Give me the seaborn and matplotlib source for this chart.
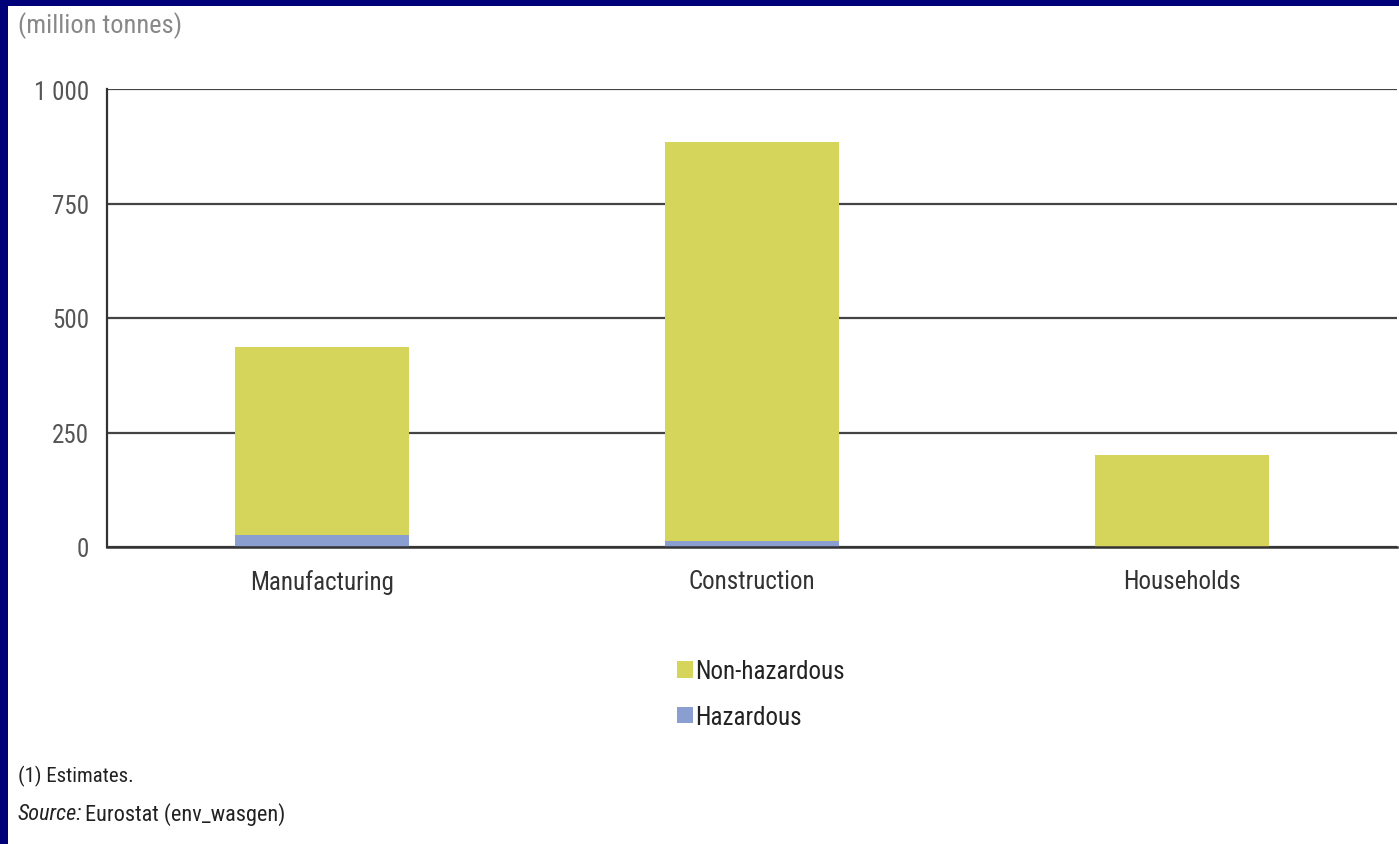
import matplotlib
matplotlib.use("Agg")
import matplotlib.pyplot as plt
from matplotlib import font_manager
from matplotlib.patches import Rectangle, Patch
from matplotlib.ticker import FuncFormatter
import pandas as pd
import seaborn as sns

# Waste generation by source (million tonnes)
categories = ["Manufacturing", "Construction", "Households"]
non_hazardous = [411, 871, 201]
hazardous = [26, 13, 0]
yticks = [0, 250, 500, 750, 1000]

YELLOW = "#D4D55A"
BLUE = "#8A9FD0"
NAVY = "#000078"

sns.set_theme(style="white")


def _is_regular(entry):
    w = entry.weight
    if isinstance(w, str):
        w = {"normal": 400, "regular": 400, "book": 400}.get(w.lower(), 0)
    return 350 <= w <= 450 and entry.style == "normal"


# prefer a narrow regular-weight face if one is available
regular_names = {f.name for f in font_manager.fontManager.ttflist if _is_regular(f)}
family = next((f for f in ["Liberation Sans Narrow", "DejaVu Sans Condensed",
                           "Roboto Condensed", "Open Sans Condensed",
                           "Liberation Sans"] if f in regular_names), "DejaVu Sans")
plt.rcParams["font.family"] = [family, "DejaVu Sans"]
plt.rcParams["font.weight"] = "normal"

df = pd.DataFrame({
    "category": categories,
    "hazardous": hazardous,
    "total": [n + h for n, h in zip(non_hazardous, hazardous)],
})

fig = plt.figure(figsize=(13.99, 8.45), dpi=100)
fig.patch.set_facecolor(NAVY)
# white sheet inside the navy frame
fig.patches.append(Rectangle((8 / 1399, 0), 1 - 8 / 1399, 1 - 7 / 845,
                             transform=fig.transFigure, facecolor="white",
                             edgecolor="none", zorder=-10))

ax = fig.add_axes([107 / 1399, 1 - 548 / 845, 1290 / 1399, (548 - 90) / 845])
ax.set_facecolor("none")

sns.barplot(data=df, x="category", y="total", color=YELLOW, width=0.405,
            saturation=1, linewidth=0, ax=ax, zorder=3)
sns.barplot(data=df, x="category", y="hazardous", color=BLUE, width=0.405,
            saturation=1, linewidth=0, ax=ax, zorder=4)

ax.set_xlim(-0.5, 2.5)
ax.set_ylim(0, 1000)
ax.set_yticks(yticks)
ax.yaxis.set_major_formatter(FuncFormatter(
    lambda v, p: f"{int(v):,}".replace(",", " ")))
ax.yaxis.grid(True, color="#444444", linewidth=1.6, zorder=1)
ax.set_axisbelow(True)

for s in ["top", "right"]:
    ax.spines[s].set_visible(False)
ax.spines["left"].set_color("#333333")
ax.spines["left"].set_linewidth(1.6)
ax.spines["bottom"].set_color("#333333")
ax.spines["bottom"].set_linewidth(1.8)
ax.spines["bottom"].set_zorder(5)

ax.set_xlabel("")
ax.set_ylabel("")
ax.tick_params(axis="y", length=0, pad=13, labelsize=18, labelcolor="#555555")
ax.tick_params(axis="x", length=0, pad=16, labelsize=18, labelcolor="#333333")
# boundary ticks between categories
ax.set_xticks([0.5, 1.5, 2.5], minor=True)
ax.tick_params(axis="x", which="minor", direction="in", length=8, width=1.6,
               color="#444444")

fig.text(18 / 1399, 1 - 26 / 845, "(million tonnes)", fontsize=19,
         color="#888888", va="center", ha="left")

handles = [Patch(facecolor=YELLOW, edgecolor="none", label="Non-hazardous"),
           Patch(facecolor=BLUE, edgecolor="none", label="Hazardous")]
fig.legend(handles=handles, loc="center", bbox_to_anchor=(761 / 1399, 1 - 695 / 845),
           frameon=False, fontsize=18, handlelength=0.65, handleheight=0.65,
           handletextpad=0.1, labelspacing=0.85, labelcolor="#222222")

fig.text(18 / 1399, 1 - 776 / 845, "(1) Estimates.", fontsize=15,
         color="#222222", va="center", ha="left")
src = fig.text(18 / 1399, 1 - 815 / 845, "Source:", fontsize=16, style="italic",
               color="#222222", va="center", ha="left")
ax.annotate("Eurostat (env_wasgen)", xy=(1, 0.5), xycoords=src,
            xytext=(2, 0), textcoords="offset points", fontsize=16,
            color="#222222", va="center", ha="left", annotation_clip=False)

fig.savefig("out.png", dpi=100, facecolor=fig.get_facecolor())
